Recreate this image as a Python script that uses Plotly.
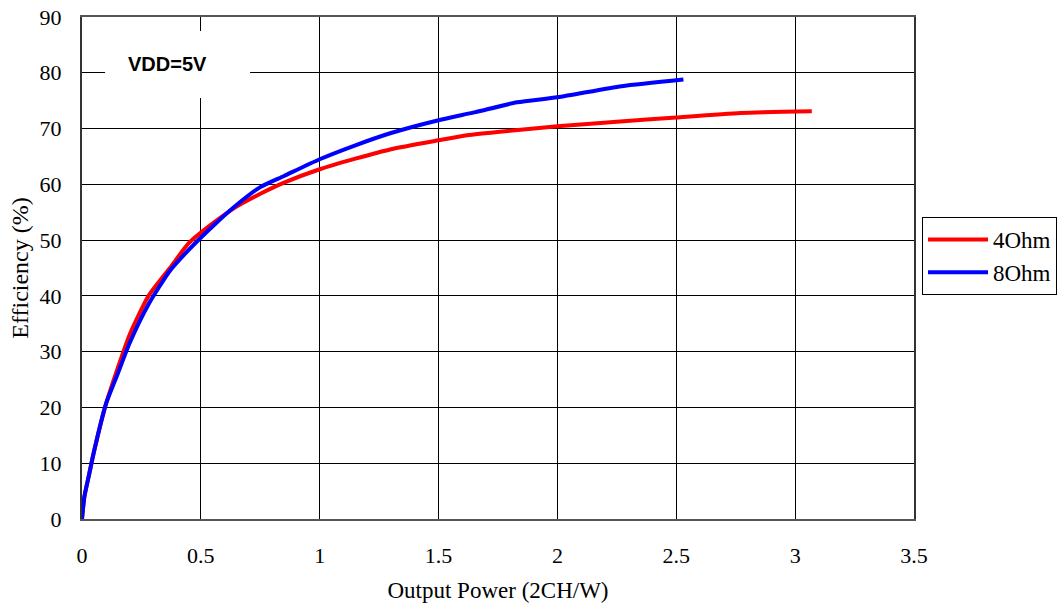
import plotly.graph_objects as go

# Output power (W, 2 channels) and efficiency (%) at VDD = 5 V
power_4ohm = [0, 0.01, 0.03, 0.05, 0.1, 0.15, 0.2, 0.28, 0.37, 0.45, 0.55, 0.65, 0.75,
              0.85, 1.0, 1.15, 1.3, 1.5, 1.62, 1.8, 2.0, 2.25, 2.5, 2.77, 3.07]
eff_4ohm = [0, 4, 8, 12, 20.5, 27, 33, 40, 45, 49.5, 53, 56, 58.3,
            60.3, 62.7, 64.6, 66.3, 67.9, 68.8, 69.6, 70.4, 71.2, 72, 72.8, 73.1]

power_8ohm = [0, 0.01, 0.03, 0.05, 0.1, 0.15, 0.2, 0.28, 0.37, 0.45, 0.55, 0.65, 0.75,
              0.85, 1.0, 1.15, 1.3, 1.5, 1.65, 1.83, 2.0, 2.27, 2.53]
eff_8ohm = [0, 4, 8, 12, 20.5, 26, 31.5, 38.5, 44.5, 48.3, 52.5, 56.3, 59.5,
            61.5, 64.5, 67, 69.2, 71.5, 72.9, 74.7, 75.6, 77.6, 78.8]

x_ticks = [0, 0.5, 1, 1.5, 2, 2.5, 3, 3.5]
x_tick_text = ["0", "0.5", "1", "1.5", "2", "2.5", "3", "3.5"]
y_ticks = [0, 10, 20, 30, 40, 50, 60, 70, 80, 90]

SERIF = "Liberation Serif"

fig = go.Figure()
fig.add_trace(go.Scatter(x=power_4ohm, y=eff_4ohm, mode="lines", name="4Ohm",
                         line=dict(color="#ff0000", width=4, shape="spline", smoothing=0.6)))
fig.add_trace(go.Scatter(x=power_8ohm, y=eff_8ohm, mode="lines", name="8Ohm",
                         line=dict(color="#0000ff", width=4, shape="spline", smoothing=0.6)))

# condition label on a white patch over the grid
fig.add_shape(type="rect", xref="x", yref="y", x0=0.097, x1=0.707, y0=75.5, y1=87.5,
              fillcolor="white", line=dict(width=0), layer="above")
fig.add_annotation(x=0.36, y=81.6, xref="x", yref="y", text="<b>VDD=5V</b>",
                   showarrow=False, font=dict(family="Liberation Sans", size=20, color="black"))

fig.update_layout(
    width=1057, height=612,
    margin=dict(l=82, r=143, t=17, b=93),
    paper_bgcolor="white", plot_bgcolor="white",
    showlegend=True,
    legend=dict(xref="container", yref="container", x=922 / 1057, y=1 - 217 / 612,
                xanchor="left", yanchor="top",
                bordercolor="black", borderwidth=1, bgcolor="white",
                font=dict(family=SERIF, size=23, color="black"),
                itemwidth=60, tracegroupgap=0),
    font=dict(family=SERIF, size=22, color="black"),
)
fig.update_xaxes(
    range=[0, 3.5], tickvals=x_ticks, ticktext=x_tick_text, automargin=False,
    showgrid=True, gridcolor="black", gridwidth=1,
    showline=True, linecolor="#555555", linewidth=2, mirror=True,
    zeroline=False, ticks="", ticklabelstandoff=16,
    title=dict(text="Output Power (2CH/W)", standoff=14,
               font=dict(family=SERIF, size=23)),
    tickfont=dict(family=SERIF, size=22),
)
fig.update_yaxes(
    range=[0, 90], tickvals=y_ticks, automargin=False,
    showgrid=True, gridcolor="black", gridwidth=1,
    showline=True, linecolor="#333333", linewidth=2, mirror=True,
    zeroline=False, ticks="", ticklabelstandoff=14,
    title=dict(text="Efficiency (%)", standoff=4,
               font=dict(family=SERIF, size=24)),
    tickfont=dict(family=SERIF, size=22),
)

fig.write_html("out.html")
